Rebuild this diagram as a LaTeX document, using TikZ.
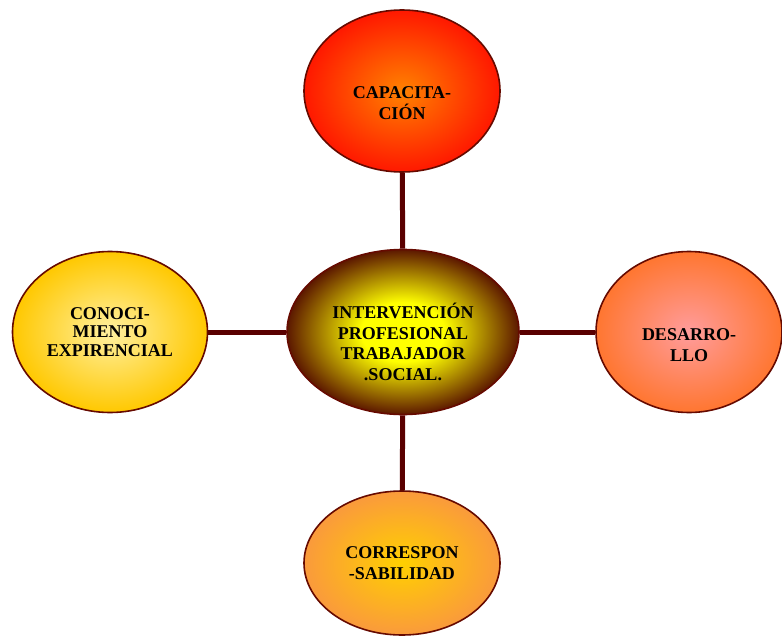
\documentclass[tikz,border=0pt]{standalone}
\usepackage{fontspec}
\setmainfont{Liberation Serif}
\usetikzlibrary{shapes.geometric,backgrounds}
\definecolor{rim}{HTML}{660A00}
\definecolor{link}{HTML}{5A0000}
\definecolor{cIn}{HTML}{FFFF00}
\definecolor{cOut}{HTML}{5C1800}
\definecolor{tIn}{HTML}{FF8200}
\definecolor{tOut}{HTML}{FF1800}
\definecolor{lIn}{HTML}{FFF0A0}
\definecolor{lOut}{HTML}{FFC800}
\definecolor{rIn}{HTML}{FF9C9C}
\definecolor{rOut}{HTML}{FF7630}
\definecolor{bIn}{HTML}{FFD000}
\definecolor{bOut}{HTML}{FA9A3C}
\pgfdeclareradialshading{centershade}{\pgfpoint{0bp}{0bp}}{color(0bp)=(cIn); color(9bp)=(cIn); color(25bp)=(cOut); color(50bp)=(cOut)}
\tikzset{
  bubble/.style={ellipse, draw=rim, line width=1.6pt, inner sep=0pt},
  caption/.style={align=center, inner sep=0pt,
    font=\fontsize{18}{20.5}\selectfont\bfseries, text=black},
  linkline/.style={draw=link, line width=5pt}
}
\begin{document}
\begin{tikzpicture}[x=1pt,y=-1pt]
\useasboundingbox (0,0) rectangle (782,637);
\node[bubble, minimum width=232pt, minimum height=165pt, shading=centershade] (center) at (403,332) {};
\node[bubble, minimum width=196pt, minimum height=162pt, inner color=tIn, outer color=tOut] (top) at (402,91) {};
\node[bubble, minimum width=195pt, minimum height=161pt, inner color=lIn, outer color=lOut] (left) at (110,332) {};
\node[bubble, minimum width=186pt, minimum height=161pt, inner color=rIn, outer color=rOut] (right) at (689,332) {};
\node[bubble, minimum width=196pt, minimum height=144pt, inner color=bIn, outer color=bOut] (bottom) at (402,563) {};
\node[caption] (centertext) at ([yshift=-10pt]center.center) {INTERVENCIÓN\\PROFESIONAL\\TRABAJADOR\\.SOCIAL.};
\node[caption] (toptext) at ([yshift=-12pt]top.center) {CAPACITA-\\CIÓN};
\node[caption, font=\fontsize{18}{18.5}\selectfont\bfseries] (lefttext) at ([yshift=0pt]left.center) {CONOCI-\\MIENTO\\EXPIRENCIAL};
\node[caption] (righttext) at ([yshift=-13pt]right.center) {DESARRO-\\LLO};
\node[caption] (bottomtext) at ([yshift=0pt]bottom.center) {CORRESPON\\-SABILIDAD};
\begin{scope}[on background layer]
\draw[linkline] (center) -- (top);
\draw[linkline] (center) -- (left);
\draw[linkline] (center) -- (right);
\draw[linkline] (center) -- (bottom);
\end{scope}
\end{tikzpicture}
\end{document}
